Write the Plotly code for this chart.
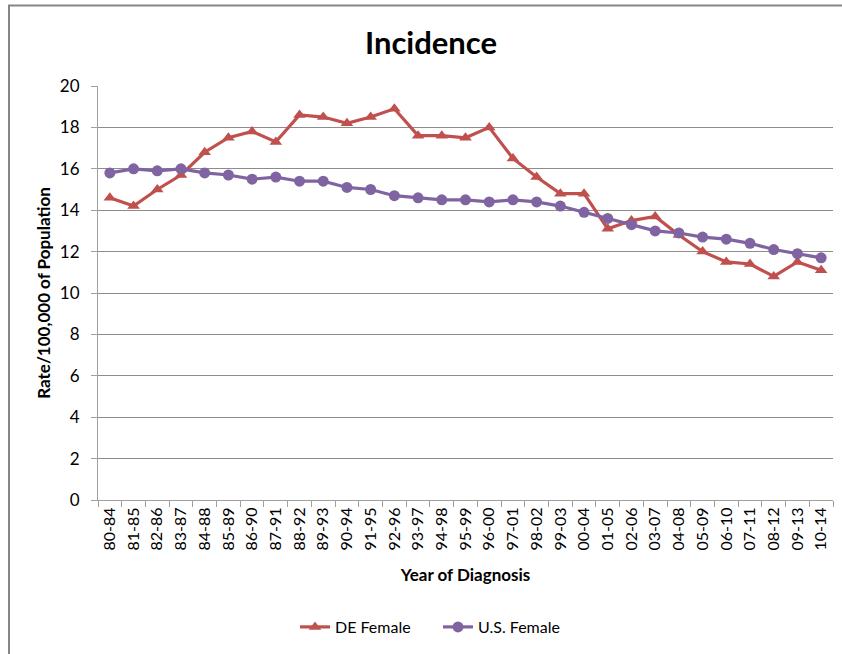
import plotly.graph_objects as go

categories = ["80-84","81-85","82-86","83-87","84-88","85-89","86-90","87-91","88-92","89-93",
              "90-94","91-95","92-96","93-97","94-98","95-99","96-00","97-01","98-02","99-03",
              "00-04","01-05","02-06","03-07","04-08","05-09","06-10","07-11","08-12","09-13","10-14"]
de_female = [14.6,14.2,15.0,15.7,16.8,17.5,17.8,17.3,18.6,18.5,
             18.2,18.5,18.9,17.6,17.6,17.5,18.0,16.5,15.6,14.8,
             14.8,13.1,13.5,13.7,12.8,12.0,11.5,11.4,10.8,11.5,11.1]
us_female = [15.8,16.0,15.9,16.0,15.8,15.7,15.5,15.6,15.4,15.4,
             15.1,15.0,14.7,14.6,14.5,14.5,14.4,14.5,14.4,14.2,
             13.9,13.6,13.3,13.0,12.9,12.7,12.6,12.4,12.1,11.9,11.7]
y_ticks = [0,2,4,6,8,10,12,14,16,18,20]

FONT = "Lato"
W, H = 842, 654
L, R, T, B = 98, 833, 86, 500
PW, PH = R - L, B - T

fig = go.Figure()
fig.add_trace(go.Scatter(x=categories, y=de_female, name="DE Female", mode="lines+markers",
                         line=dict(color="#C0504D", width=3.2),
                         marker=dict(symbol="triangle-up", size=11, color="#C0504D")))
fig.add_trace(go.Scatter(x=categories, y=us_female, name="U.S. Female", mode="lines+markers",
                         line=dict(color="#8064A2", width=3.2),
                         marker=dict(symbol="circle", size=11, color="#8064A2")))

fig.update_layout(
    width=W, height=H,
    margin=dict(l=L, r=W - R, t=T, b=H - B),
    paper_bgcolor="white", plot_bgcolor="white",
    font=dict(family=FONT, color="black", size=15),
    title=dict(text="<b>Incidence</b>", x=(431 - L) / PW, xref="paper", xanchor="center",
               y=1 - 43 / H, yanchor="middle", font=dict(size=31, family=FONT)),
    showlegend=True,
    legend=dict(orientation="h", x=(438 - L) / PW, xanchor="center", y=-(627 - B) / PH, yanchor="middle",
                font=dict(size=16, family=FONT), entrywidth=98, entrywidthmode="pixels"),
    xaxis=dict(type="category", range=[-0.5, 30.5], tickangle=-90,
               showline=True, linecolor="#a0a0a0", linewidth=1,
               ticks="outside", tickson="boundaries", ticklen=6, tickcolor="#a0a0a0",
               showgrid=False, tickfont=dict(size=16),
               title=dict(text="<b>Year of Diagnosis</b>", font=dict(size=17), standoff=19)),
    yaxis=dict(range=[0, 20], tickvals=y_ticks, showline=True, linecolor="#a0a0a0", linewidth=1,
               ticks="outside", ticklen=6, tickcolor="#a0a0a0", ticklabelstandoff=8,
               showgrid=True, gridcolor="#8c8c8c", gridwidth=1, zeroline=False,
               tickfont=dict(size=17),
               title=dict(text="<b>Rate/100,000 of Population</b>", font=dict(size=17), standoff=4)),
)
# outer chart border (top and left edges visible in the reference), drawn as one open path
top_y = 1 + (T - 5.5) / PH
left_x = -(L - 9) / PW
bottom_y = -(H - B) / PH
fig.add_shape(type="path", xref="paper", yref="paper",
              path=f"M {left_x} {bottom_y} L {left_x} {top_y} L {(W - L + 5) / PW} {top_y}",
              line=dict(color="#868686", width=2), fillcolor="rgba(0,0,0,0)")
fig.write_html("out.html", config={"displayModeBar": False},
               post_script="document.body.style.margin='0';document.body.style.overflow='hidden';"
                           "document.documentElement.style.overflow='hidden';")
